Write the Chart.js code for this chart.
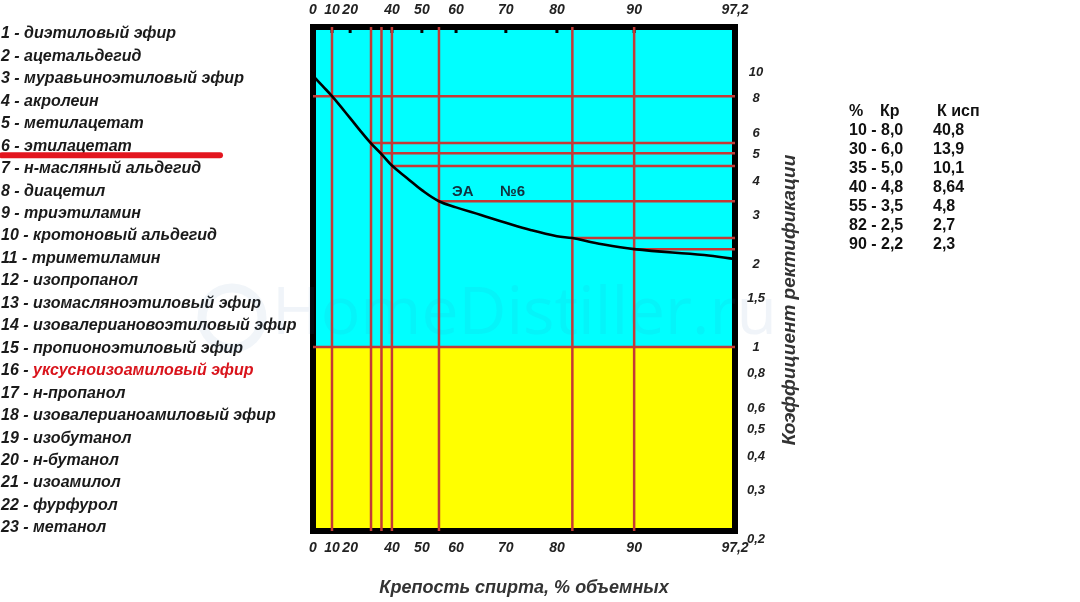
<!DOCTYPE html>
<html>
<head>
<meta charset="utf-8">
<script src="https://cdn.jsdelivr.net/npm/chart.js@4.4.1/dist/chart.umd.min.js"></script>
<style>
  html, body { margin: 0; padding: 0; background: #fff; }
  canvas { display: block; }
</style>
</head>
<body>
<canvas id="chart" width="1080" height="602"></canvas>
<script>
// список примесей слева
const compounds = [
    'диэтиловый эфир', 'ацетальдегид', 'муравьиноэтиловый эфир', 'акролеин',
    'метилацетат', 'этилацетат', 'н-масляный альдегид', 'диацетил',
    'триэтиламин', 'кротоновый альдегид', 'триметиламин', 'изопропанол',
    'изомасляноэтиловый эфир', 'изовалериановоэтиловый эфир', 'пропионоэтиловый эфир',
    'уксусноизоамиловый эфир', 'н-пропанол', 'изовалерианоамиловый эфир',
    'изобутанол', 'н-бутанол', 'изоамилол', 'фурфурол', 'метанол'
];
const redCompound = 16;
const underlinedCompound = 6;

// кривая ЭА (№6): крепость, % об. -> коэффициент ректификации
const strength = [0, 5, 10, 20, 25, 30, 35, 40, 45, 50, 55, 60, 65, 70, 75, 80, 82, 85, 90, 95, 97.2];
const rectCoef = [9.7, 8.9, 8.17, 6.8, 6.1, 5.5, 5.03, 4.57, 4.12, 3.72, 3.39, 3.22, 3.02, 2.83, 2.66, 2.53, 2.49, 2.39, 2.27, 2.16, 2.09];

// таблица справа
const tablePct = [10, 30, 35, 40, 55, 82, 90];
const tableKr = [8.0, 6.0, 5.0, 4.8, 3.5, 2.5, 2.2];
const tableKisp = [40.8, 13.9, 10.1, 8.64, 4.8, 2.7, 2.3];
// где красные линии пересекают кривую на картинке
const markKr = [8.17, 5.52, 5.07, 4.55, 3.39, 2.49, 2.27];

// оси
const xTicks = [0, 10, 20, 40, 50, 60, 70, 80, 90, 97.2];
const yTicks = [0.2, 0.3, 0.4, 0.5, 0.6, 0.8, 1, 1.5, 2, 3, 4, 5, 6, 8, 10];

// неравномерная шкала крепости: доля длины оси для каждой подписи
const xTickSpots = [0, 0.045, 0.088, 0.187, 0.258, 0.339, 0.457, 0.578, 0.761, 1];

const comma = v => String(v).replace('.', ',');
const FONT = '"Liberation Sans", Arial, sans-serif';

function toSpot(v) {
    if (v <= xTicks[0]) return xTickSpots[0];
    for (let i = 1; i < xTicks.length; i++) {
        if (v <= xTicks[i]) {
            const t = (v - xTicks[i - 1]) / (xTicks[i] - xTicks[i - 1]);
            return xTickSpots[i - 1] + t * (xTickSpots[i] - xTickSpots[i - 1]);
        }
    }
    return xTickSpots[xTickSpots.length - 1];
}
function fromSpot(f) {
    for (let i = 1; i < xTickSpots.length; i++) {
        if (f <= xTickSpots[i]) {
            const t = (f - xTickSpots[i - 1]) / (xTickSpots[i] - xTickSpots[i - 1]);
            return xTicks[i - 1] + t * (xTicks[i] - xTicks[i - 1]);
        }
    }
    return xTicks[xTicks.length - 1];
}

class StrengthScale extends Chart.LinearScale {
    static id = 'strength';
    static defaults = {};
    getPixelForValue(value) {
        return this.getPixelForDecimal(toSpot(value));
    }
    getValueForPixel(pixel) {
        return fromSpot(this.getDecimalForPixel(pixel));
    }
}
Chart.register(StrengthScale);

const yMin = 0.2143, yMax = 14.58;
const xMax = xTicks[xTicks.length - 1];
const RED = '#c43a36';

const datasets = [];
// вертикальные красные линии
tablePct.forEach(p => {
    datasets.push({
        data: [{x: p, y: yMin}, {x: p, y: yMax}],
        borderColor: RED, borderWidth: 2.5, pointRadius: 0, order: 3
    });
});
// горизонтальные красные линии (первая идёт от левого края)
tablePct.forEach((p, i) => {
    datasets.push({
        data: [{x: i === 0 ? 0 : p, y: markKr[i]}, {x: xMax, y: markKr[i]}],
        borderColor: RED, borderWidth: 2.5, pointRadius: 0, order: 3
    });
});
// граница Кр = 1
datasets.push({
    data: [{x: 0, y: 1}, {x: xMax, y: 1}],
    borderColor: RED, borderWidth: 2.5, pointRadius: 0, order: 3
});
// кривая
datasets.push({
    data: strength.map((s, i) => ({x: s, y: rectCoef[i]})),
    borderColor: '#000', borderWidth: 2.6, pointRadius: 0,
    tension: 0.4, order: 1
});

const backgroundPlugin = {
    id: 'zones',
    beforeDraw(chart) {
        const {ctx, chartArea: a, scales} = chart;
        ctx.save();
        ctx.fillStyle = '#fff';
        ctx.fillRect(0, 0, chart.width, chart.height);
        const y1 = scales.y.getPixelForValue(1);
        ctx.fillStyle = '#00ffff';
        ctx.fillRect(a.left, a.top, a.right - a.left, y1 - a.top);
        ctx.fillStyle = '#ffff00';
        ctx.fillRect(a.left, y1, a.right - a.left, a.bottom - y1);
        ctx.restore();
    },
    beforeDatasetsDraw(chart) {
        const {ctx, chartArea: a, scales} = chart;
        ctx.save();
        ctx.strokeStyle = '#000';
        ctx.lineWidth = 6;
        ctx.strokeRect(a.left, a.top, a.right - a.left, a.bottom - a.top);
        // зубчики под верхней рамкой
        ctx.lineWidth = 3;
        xTicks.slice(1, -1).forEach(v => {
            const x = scales.xTop.getPixelForValue(v);
            ctx.beginPath();
            ctx.moveTo(x, a.top);
            ctx.lineTo(x, a.top + 6);
            ctx.stroke();
        });
        ctx.restore();
    }
};

const textPlugin = {
    id: 'texts',
    afterDraw(chart) {
        const {ctx, scales} = chart;
        ctx.save();
        ctx.textBaseline = 'middle';

        // список слева
        ctx.font = 'italic bold 16px ' + FONT;
        compounds.forEach((name, i) => {
            const y = 34 + i * 22.45;
            const prefix = (i + 1) + ' - ';
            ctx.textAlign = 'left';
            ctx.fillStyle = '#1a1a1a';
            ctx.fillText(prefix, 1, y);
            ctx.fillStyle = (i + 1 === redCompound) ? '#d9141c' : '#1a1a1a';
            ctx.fillText(name, 1 + ctx.measureText(prefix).width, y);
        });
        // подчеркивание этилацетата
        const uy = 34 + (underlinedCompound - 1) * 22.45 + 9;
        ctx.strokeStyle = '#e3161f';
        ctx.lineWidth = 6;
        ctx.lineCap = 'round';
        ctx.beginPath();
        ctx.moveTo(2, uy);
        ctx.lineTo(220, uy);
        ctx.stroke();

        // подпись кривой
        ctx.font = 'bold 15px ' + FONT;
        ctx.fillStyle = '#12303c';
        const lx = scales.x.getPixelForValue(55);
        const ly = scales.y.getPixelForValue(3.39);
        ctx.fillText('ЭА', lx + 13, ly - 9);
        ctx.fillText('№6', lx + 61, ly - 9);

        // таблица справа
        ctx.font = 'bold 16px ' + FONT;
        ctx.fillStyle = '#111';
        ctx.fillText('%', 849, 112);
        ctx.fillText('Кр', 880, 112);
        ctx.fillText('К исп', 937, 112);
        tablePct.forEach((p, i) => {
            const y = 131 + i * 19;
            ctx.fillText(p + ' - ' + tableKr[i].toFixed(1).replace('.', ','), 849, y);
            ctx.fillText(comma(tableKisp[i]), 933, y);
        });

        // подпись оси Y (снизу вверх)
        ctx.save();
        ctx.translate(790, 300);
        ctx.rotate(-Math.PI / 2);
        ctx.textAlign = 'center';
        ctx.font = 'italic bold 19px ' + FONT;
        ctx.fillStyle = '#333';
        ctx.fillText('Коэффициент ректификации', 0, 0);
        ctx.restore();

        // водяной знак
        ctx.font = '66px "Open Sans", sans-serif';
        ctx.fillStyle = 'rgba(60,110,175,0.08)';
        ctx.textAlign = 'left';
        ctx.fillText('HomeDistiller.ru', 272, 315);
        ctx.strokeStyle = 'rgba(60,110,175,0.07)';
        ctx.lineWidth = 9;
        ctx.beginPath();
        ctx.arc(232, 318, 30, 0, Math.PI * 2);
        ctx.stroke();
        ctx.restore();
    }
};

const tickFont = {family: FONT, size: 14, weight: 'bold', style: 'italic'};

const xAxis = (position, padding, height) => ({
    type: 'strength',
    position: position,
    min: 0,
    max: xMax,
    grid: {display: false, drawTicks: false},
    border: {display: false},
    afterBuildTicks: s => { s.ticks = xTicks.map(v => ({value: v})); },
    afterFit: s => { s.height = height; },
    ticks: {
        autoSkip: false, maxRotation: 0, padding: padding,
        color: '#222', font: tickFont,
        callback: v => comma(v)
    }
});

const cfg = {
    type: 'line',
    data: {datasets: datasets},
    options: {
        responsive: false,
        animation: false,
        layout: {padding: {left: 313, top: 0, right: 0, bottom: 0}},
        plugins: {legend: {display: false}, tooltip: {enabled: false}},
        scales: {
            xTop: xAxis('top', 8, 27),
            x: Object.assign(xAxis('bottom', 9, 71), {
                title: {
                    display: true,
                    text: 'Крепость спирта, % объемных',
                    color: '#333',
                    font: {family: FONT, size: 18, weight: 'bold', style: 'italic'},
                    padding: {top: 0, bottom: 3}
                }
            }),
            y: {
                type: 'logarithmic',
                position: 'right',
                min: yMin,
                max: yMax,
                grid: {display: false, drawTicks: false},
                border: {display: false},
                afterBuildTicks: s => { s.ticks = yTicks.map(v => ({value: v})); },
                afterFit: s => { s.width = 345; },
                ticks: {
                    autoSkip: false, padding: 12, crossAlign: 'center',
                    color: '#222',
                    font: {family: FONT, size: 13, weight: 'bold', style: 'italic'},
                    callback: v => comma(v)
                }
            }
        }
    },
    plugins: [backgroundPlugin, textPlugin]
};

new Chart(document.getElementById('chart').getContext('2d'), cfg);
</script>
</body>
</html>
